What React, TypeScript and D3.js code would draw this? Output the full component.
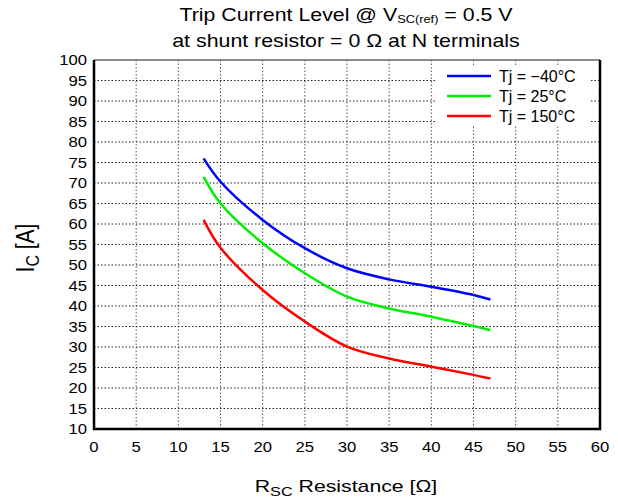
import { useEffect, useRef } from "react";
import * as d3 from "d3";

// resistance [ohm]
const rsc = [13, 15, 20, 25, 30, 35, 40, 45, 47];
// trip current [A]
const icMinus40 = [76, 70.3, 61, 54.1, 49.2, 46.5, 44.7, 42.7, 41.6];
const ic25 = [71.5, 65, 55.3, 48, 42.3, 39.4, 37.4, 35.1, 34.1];
const ic150 = [61, 54.2, 43.9, 36.2, 30.1, 27.2, 25.2, 23.2, 22.3];

const xTicks = [0, 5, 10, 15, 20, 25, 30, 35, 40, 45, 50, 55, 60];
const yTicks = [10, 15, 20, 25, 30, 35, 40, 45, 50, 55, 60, 65, 70, 75, 80, 85, 90, 95, 100];

const seriesNames = ["Tj = \u221240\u00b0C", "Tj = 25\u00b0C", "Tj = 150\u00b0C"];
const seriesColors = ["#0000ff", "#00ee00", "#ff0000"];

const App = () => {
  const ref = useRef<SVGSVGElement>(null);

  useEffect(() => {
    const w = 618;
    const h = 502;
    const m = { left: 94, right: 600, top: 60, bottom: 429 };
    const font = "'Liberation Sans', Arial, Helvetica, sans-serif";
    const sx = 1.2; // text in the original is a bit wide

    const svg = d3.select(ref.current).attr("width", w).attr("height", h);
    svg.selectAll("*").remove();
    svg.append("rect").attr("width", w).attr("height", h).attr("fill", "#fff");

    const x = d3.scaleLinear().domain([0, 60]).range([m.left, m.right]);
    const y = d3.scaleLinear().domain([10, 100]).range([m.bottom, m.top]);

    // grid
    const grid = svg.append("g");
    grid
      .selectAll(".vg")
      .data(xTicks.slice(1, -1))
      .join("line")
      .attr("x1", (d) => x(d))
      .attr("x2", (d) => x(d))
      .attr("y1", m.top)
      .attr("y2", m.bottom)
      .attr("stroke", "#555")
      .attr("stroke-width", 1)
      .attr("stroke-dasharray", "1.5,2");
    grid
      .selectAll(".hg")
      .data(yTicks.slice(1, -1))
      .join("line")
      .attr("x1", m.left)
      .attr("x2", m.right)
      .attr("y1", (d) => y(d))
      .attr("y2", (d) => y(d))
      .attr("stroke", "#222")
      .attr("stroke-width", 1)
      .attr("stroke-dasharray", "1.5,2");

    // frame
    svg.append("line").attr("x1", m.left).attr("x2", m.right).attr("y1", m.top).attr("y2", m.top)
      .attr("stroke", "#666").attr("stroke-width", 1.5);
    svg.append("path")
      .attr("d", `M${m.left},${m.top}V${m.bottom}H${m.right}V${m.top}`)
      .attr("fill", "none").attr("stroke", "#000").attr("stroke-width", 2.5);

    // tick labels
    svg.append("g")
      .selectAll("text")
      .data(xTicks)
      .join("text")
      .attr("transform", (d) => `translate(${x(d)},452) scale(1.15,1)`)
      .attr("text-anchor", "middle")
      .attr("font-family", font)
      .attr("font-size", 14.5)
      .text((d) => d);
    svg.append("g")
      .selectAll("text")
      .data(yTicks)
      .join("text")
      .attr("transform", (d) => `translate(87,${y(d) + 5}) scale(1.15,1)`)
      .attr("text-anchor", "end")
      .attr("font-family", font)
      .attr("font-size", 14.5)
      .text((d) => d);

    // lines
    const line = d3
      .line<number>()
      .x((_, i) => x(rsc[i]))
      .y((d) => y(d))
      .curve(d3.curveCatmullRom);
    [icMinus40, ic25, ic150].forEach((s, i) => {
      svg.append("path")
        .attr("d", line(s))
        .attr("fill", "none")
        .attr("stroke", seriesColors[i])
        .attr("stroke-width", 2.5);
    });

    // legend
    const lg = svg.append("g");
    lg.append("rect").attr("x", 437).attr("y", 66).attr("width", 153).attr("height", 60).attr("fill", "#fff");
    seriesNames.forEach((n, i) => {
      const ly = 76 + i * 20;
      lg.append("line").attr("x1", 447).attr("x2", 491).attr("y1", ly).attr("y2", ly)
        .attr("stroke", seriesColors[i]).attr("stroke-width", 2.5);
      lg.append("text").attr("x", 499).attr("y", ly + 5.5)
        .attr("font-family", font).attr("font-size", 16).text(n);
    });

    // title
    const t1 = svg.append("text").attr("transform", `translate(346,21) scale(${sx + 0.02},1)`)
      .attr("text-anchor", "middle").attr("font-family", font).attr("font-size", 17.5);
    t1.append("tspan").text("Trip Current Level @ V");
    t1.append("tspan").attr("font-size", 10.5).attr("dy", 2).text("SC(ref)");
    t1.append("tspan").attr("dy", -2).text(" = 0.5 V");
    svg.append("text").attr("transform", `translate(346,47) scale(${sx + 0.02},1)`)
      .attr("text-anchor", "middle").attr("font-family", font).attr("font-size", 17.5)
      .text("at shunt resistor = 0 \u03a9 at N terminals");

    // axis titles
    const xt = svg.append("text").attr("transform", `translate(346,492) scale(1.25,1)`)
      .attr("text-anchor", "middle").attr("font-family", font).attr("font-size", 17);
    xt.append("tspan").text("R");
    xt.append("tspan").attr("font-size", 13).attr("dy", 4).text("SC");
    xt.append("tspan").attr("dy", -4).text(" Resistance [\u03a9]");

    const yt = svg.append("text").attr("transform", `translate(34,248) scale(${sx},1) rotate(-90)`)
      .attr("text-anchor", "middle").attr("font-family", font).attr("font-size", 21);
    yt.append("tspan").text("I");
    yt.append("tspan").attr("font-size", 16).attr("dy", 4).text("C");
    yt.append("tspan").attr("dy", -4).text(" [A]");
  }, []);

  return (
    <div style={{ position: "absolute", left: 0, top: 0 }}>
      <svg ref={ref} style={{ display: "block" }}></svg>
    </div>
  );
};

export default App;
